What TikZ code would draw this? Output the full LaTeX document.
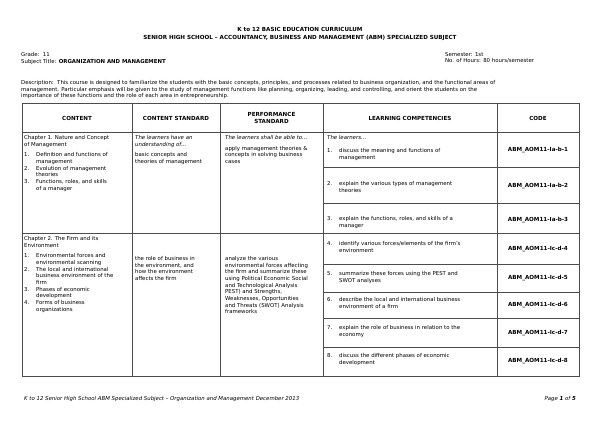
\documentclass[tikz,border=0pt]{standalone}
\usepackage{fontspec}
\setmainfont{DejaVu Sans}
\begin{document}
\begin{tikzpicture}[x=1pt,y=-1pt,
 t/.style={anchor=north west,inner sep=0pt,font=\fontsize{5.4}{6.7}\selectfont,align=left},
 hd/.style={font=\fontsize{5.6}{6.6}\selectfont\bfseries,align=center,inner sep=0pt},
 cd/.style={font=\fontsize{5.6}{7}\selectfont\bfseries,inner sep=0pt},
 ln/.style={draw=black!70,line width=0.6pt}]
\useasboundingbox (0,0) rectangle (600,424);
\newcommand\myitem[3]{\makebox[12pt][l]{#1}#2\\\hspace*{12pt}#3}
\node[hd] (h1) at (300,29) {K to 12 BASIC EDUCATION CURRICULUM};
\node[hd] (h2) at (300,38) {SENIOR HIGH SCHOOL – ACCOUNTANCY, BUSINESS AND MANAGEMENT (ABM) SPECIALIZED SUBJECT};
\node[t] (g) at (21,52) {Grade:\ \ 11\\Subject Title: \textbf{ORGANIZATION AND MANAGEMENT}};
\node[t] (s) at (445,52) {Semester: 1st\\No. of Hours: 80 hours/semester};
\node[t] (d) at (21,80) {Description:\ \ This course is designed to familiarize the students with the basic concepts, principles, and processes related to business organization, and the functional areas of\\management. Particular emphasis will be given to the study of management functions like planning, organizing, leading, and controlling, and orient the students on the\\importance of these functions and the role of each area in entrepreneurship.};
% table
\draw[ln] (22,103) rectangle (579,376);
\draw[ln] (22,132) -- (579,132);
\draw[ln] (22,233) -- (579,233);
\foreach \x in {132,220,323,497} \draw[ln] (\x,103) -- (\x,376);
\foreach \y in {167,203,264,292,318,347} \draw[ln] (323,\y) -- (579,\y);
\node[hd] (c1) at (77,118) {CONTENT};
\node[hd] (c2) at (176,118) {CONTENT STANDARD};
\node[hd] (c3) at (271.5,118) {PERFORMANCE\\STANDARD};
\node[hd] (c4) at (410,118) {LEARNING COMPETENCIES};
\node[hd] (c5) at (538,118) {CODE};
\def\it#1{\textit{#1}}
\node[t] (r1a) at (24,135) {Chapter 1. Nature and Concept\\of Management\\[4pt]
\myitem{1.}{Definition and functions of}{management}\\
\myitem{2.}{Evolution of management}{theories}\\
\myitem{3.}{Functions, roles, and skills}{of a manager}};
\node[t] (r1b) at (135,135) {\it{The learners have an}\\\it{understanding of...}\\[4pt]basic concepts and\\theories of management};
\node[t] (r1c) at (225,135) {\it{The learners shall be able to...}\\[4pt]apply management theories \&\\concepts in solving business\\cases};
\node[t] (r1d) at (327,135) {\it{The learners...}};
\node[t] (l1) at (327,148) {\myitem{1.}{discuss the meaning and functions of}{management}};
\node[t] (l2) at (327,181) {\myitem{2.}{explain the various types of management}{theories}};
\node[t] (l3) at (327,216) {\myitem{3.}{explain the functions, roles, and skills of a}{manager}};
\node[t] (r2a) at (24,236) {Chapter 2. The Firm and its\\Environment\\[4pt]
\myitem{1.}{Environmental forces and}{environmental scanning}\\
\myitem{2.}{The local and international}{business environment of the}\\\hspace*{12pt}firm\\
\myitem{3.}{Phases of economic}{development}\\
\myitem{4.}{Forms of business}{organizations}};
\node[t] (r2b) at (135,256) {the role of business in\\the environment, and\\how the environment\\affects the firm};
\node[t] (r2c) at (225,256) {analyze the various\\environmental forces affecting\\the firm and summarize these\\using Political Economic Social\\and Technological Analysis\\PEST) and Strengths,\\Weaknesses, Opportunities\\and Threats (SWOT) Analysis\\frameworks};
\node[t] (l4) at (327,241) {\myitem{4.}{identify various forces/elements of the firm's}{environment}};
\node[t] (l5) at (327,271) {\myitem{5.}{summarize these forces using the PEST and}{SWOT analyses}};
\node[t] (l6) at (327,297) {\myitem{6.}{describe the local and international business}{environment of a firm}};
\node[t] (l7) at (327,325) {\myitem{7.}{explain the role of business in relation to the}{economy}};
\node[t] (l8) at (327,353) {\myitem{8.}{discuss the different phases of economic}{development}};
\node[cd] (k1) at (538,150) {ABM\_AOM11-Ia-b-1};
\node[cd] (k2) at (538,186) {ABM\_AOM11-Ia-b-2};
\node[cd] (k3) at (538,220) {ABM\_AOM11-Ia-b-3};
\node[cd] (k4) at (538,249) {ABM\_AOM11-Ic-d-4};
\node[cd] (k5) at (538,278) {ABM\_AOM11-Ic-d-5};
\node[cd] (k6) at (538,305) {ABM\_AOM11-Ic-d-6};
\node[cd] (k7) at (538,333) {ABM\_AOM11-Ic-d-7};
\node[cd] (k8) at (538,361) {ABM\_AOM11-Ic-d-8};
\node[t,anchor=west] (f1) at (24,399) {\textit{K to 12 Senior High School ABM Specialized Subject – Organization and Management December 2013}};
\node[t,anchor=east] (f2) at (576,399) {\textit{Page \textbf{1} of \textbf{5}}};
\end{tikzpicture}
\end{document}
